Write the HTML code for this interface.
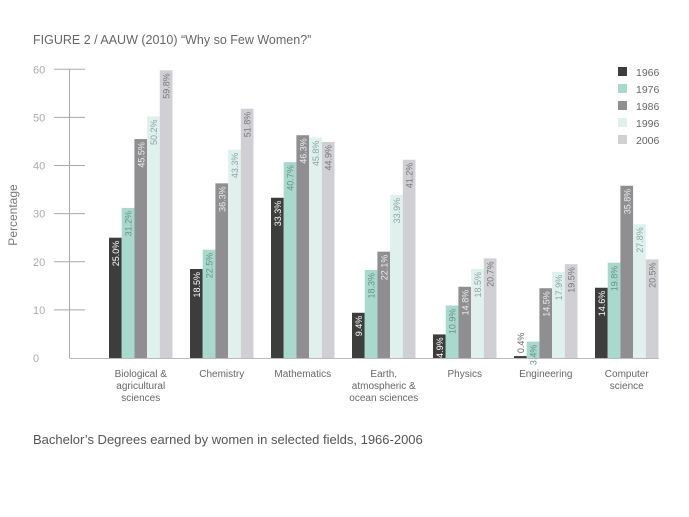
<!DOCTYPE html>
<html><head><meta charset="utf-8"><style>
body{margin:0;background:#fff;}
svg{display:block;font-family:"Liberation Sans",sans-serif;}
</style></head><body>
<svg id="chart" width="689" height="517" viewBox="0 0 689 517">
<text x="33" y="44" font-size="12.5" fill="#666">FIGURE 2 / AAUW (2010) “Why so Few Women?”</text>
<text transform="translate(17,215) rotate(-90)" text-anchor="middle" font-size="12" fill="#777">Percentage</text>
<g id="axes"></g>
<g id="bars"></g>
<g id="legend"></g>
<text x="33" y="444" font-size="13" fill="#555">Bachelor’s Degrees earned by women in selected fields, 1966-2006</text>
</svg>
<script>
const categories=[["Biological &","agricultural","sciences"],["Chemistry"],["Mathematics"],["Earth,","atmospheric &","ocean sciences"],["Physics"],["Engineering"],["Computer","science"]];
const years=["1966","1976","1986","1996","2006"];
const v1966=[25.0,18.5,33.3,9.4,4.9,0.4,14.6];
const v1976=[31.2,22.5,40.7,18.3,10.9,3.4,19.8];
const v1986=[45.5,36.3,46.3,22.1,14.8,14.5,35.8];
const v1996=[50.2,43.3,45.8,33.9,18.5,17.9,27.8];
const v2006=[59.8,51.8,44.9,41.2,20.7,19.5,20.5];
const yTicks=[0,10,20,30,40,50,60];
const series=[v1966,v1976,v1986,v1996,v2006];
const colors=["#3d3d3d","#a9d9cd","#8f8f91","#dff0ed","#d0d0d4"];
const labelColors=["#fff","#6a8f88","#eee","#8aa6a2","#777"];
const NS="http://www.w3.org/2000/svg";
const y0=358,yTop=69.3,yMax=60;
const y=v=>y0-(v/yMax)*(y0-yTop);
const gStart=109,gStep=81,bw=12.7;
const x=(c,s)=>gStart+c*gStep+s*bw;
function mk(tag,attrs,parent){const e=document.createElementNS(NS,tag);for(const k in attrs)e.setAttribute(k,attrs[k]);parent.appendChild(e);return e;}
const axes=document.getElementById('axes');
let ax=mk('line',{x1:69.5,y1:yTop,x2:69.5,y2:y0,stroke:"#aaa","stroke-width":1},axes);


let bl=mk('line',{x1:69.5,y1:y0+0.5,x2:659,y2:y0+0.5,stroke:"#bbb","stroke-width":1},axes);


yTicks.forEach(t=>{
  if(t>0){let l=mk('line',{x1:54,y1:y(t),x2:85,y2:y(t),stroke:"#aaa","stroke-width":1},axes);
  
  }
  let tx=mk('text',{x:33,y:y(t)+4,"font-size":11,fill:"#aaa"},axes);
  
  
  tx.textContent=t;
});
const bars=document.getElementById('bars');
categories.forEach((cat,c)=>{
  series.forEach((arr,s)=>{
    const v=arr[c];
    const r=mk('rect',{x:x(c,s),y:y(v),width:bw,height:y0-y(v),fill:colors[s]},bars);
    
    
    const lx=x(c,s)+bw/2+3.5, ly=y(v)+3;
    const t=mk('text',{transform:`translate(${lx},${ly}) rotate(-90)`,"text-anchor":"end","font-size":9,fill:(v<2?"#666":labelColors[s])},bars);
    if(v<2)t.setAttribute('transform',`translate(${lx},${y(v)-3}) rotate(-90)`),t.setAttribute('text-anchor','start');
    
    
    t.textContent=v.toFixed(1)+"%";
  });
  const cx=x(c,0)+bw*2.5;
  cat.forEach((line,i)=>{
    const t=mk('text',{x:cx,y:377+i*12,"text-anchor":"middle","font-size":10,fill:"#666"},bars);
    
    
    t.textContent=line;
  });
});
const legend=document.getElementById('legend');
years.forEach((yr,i)=>{
  const r=mk('rect',{x:618,y:67+i*17,width:9,height:9,fill:colors[i]},legend);
  
  
  const t=mk('text',{x:636,y:76+i*17,"font-size":10.5,fill:"#666"},legend);
  
  
  t.textContent=yr;
});
</script>
</body></html>
